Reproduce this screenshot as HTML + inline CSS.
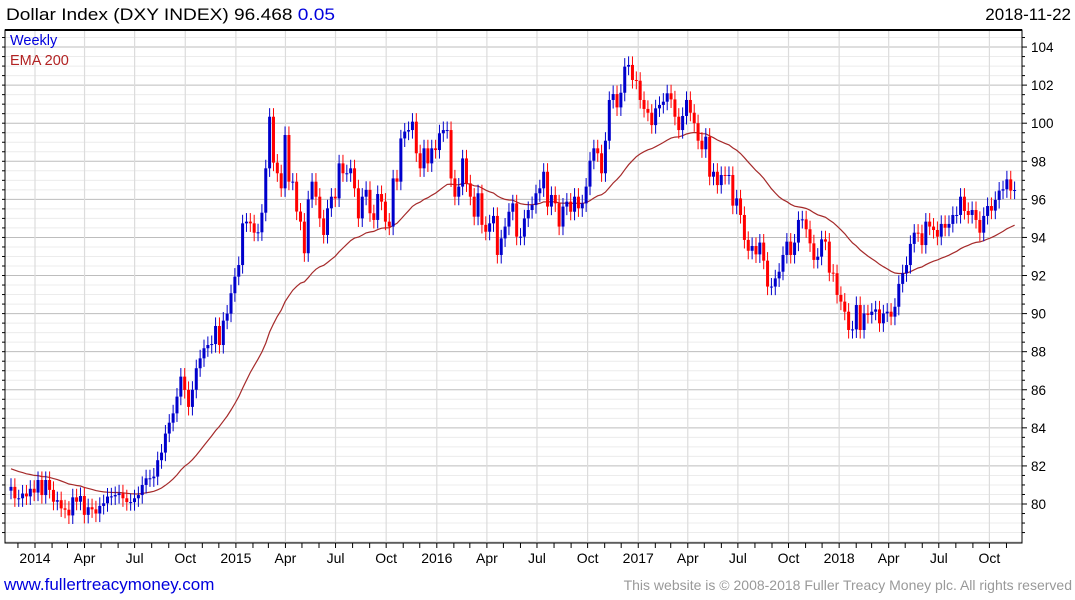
<!DOCTYPE html>
<html><head><meta charset="utf-8"><style>
body{margin:0;background:#fff;width:1075px;height:600px;overflow:hidden;font-family:"Liberation Sans",sans-serif}
svg{display:block}
</style></head><body>
<svg id="chart" width="1075" height="600" xmlns="http://www.w3.org/2000/svg">
<text x="6" y="20" font-size="17" fill="#000" textLength="329" lengthAdjust="spacingAndGlyphs">Dollar Index (DXY INDEX) 96.468 <tspan fill="#0000dd">0.05</tspan></text>
<text x="1071" y="20" font-size="17" fill="#000" text-anchor="end">2018-11-22</text>
<g id="grid"></g>
<g id="ema"></g>
<g id="candles"></g>
<g id="axes"></g>
<text x="10" y="45" font-size="14.5" fill="#0000dd">Weekly</text>
<text x="10" y="65" font-size="14.5" fill="#b22222">EMA 200</text>
<a><text x="4" y="590" font-size="17" fill="#0000dd">www.fullertreacymoney.com</text></a>
<text x="1072" y="590" font-size="14" fill="#999" text-anchor="end">This website is © 2008-2018 Fuller Treacy Money plc. All rights reserved</text>
</svg>
<script>
const closes=[80.9,80.3,80.3,80.55,80.4,80.8,80.6,81.26,80.47,81.26,
80.74,80.12,80.2,79.77,79.7,79.4,80.35,80.12,80.42,79.43,
79.83,79.72,79.5,79.9,80.04,80.39,80.4,80.47,80.56,80.3,
80.1,80.1,80.3,80.47,81.0,81.35,81.35,81.44,82.3,82.7,
83.7,84.27,84.76,85.64,86.69,85.99,85.1,86.0,87.13,87.65,
88.18,88.35,88.4,89.35,88.35,89.63,90.0,91.07,91.94,92.55,
94.74,94.83,94.74,94.25,94.27,95.3,97.63,100.34,97.93,97.37,
96.58,99.38,96.93,96.93,95.36,94.83,93.17,96.0,96.93,96.14,
95.0,94.13,95.53,96.14,96.05,
97.89,97.37,97.37,97.63,96.58,95.0,96.14,96.5,95.27,94.92,
96.28,95.88,94.83,94.57,97.1,96.93,99.2,99.56,99.64,100.08,
98.42,97.63,98.68,97.89,98.68,98.59,99.47,99.64,99.64,97.1,
96.14,96.67,98.15,96.84,96.14,95.09,96.32,94.66,94.3,94.74,
95.13,93.08,93.95,94.57,95.35,95.79,94.04,94.04,95.0,95.44,
95.7,96.32,96.58,97.45,95.62,96.23,95.79,94.57,95.62,95.88,
95.35,96.14,95.53,95.79,96.67,98.03,98.68,98.42,97.37,99.08,
101.22,101.53,100.83,101.6,102.97,103.06,102.27,102.23,101.22,100.75,
100.55,99.9,100.78,100.96,
101.13,101.57,101.25,100.34,99.64,100.38,101.22,100.55,100.0,99.08,
98.63,99.29,97.19,97.45,96.75,97.28,97.23,97.28,95.67,96.05,
95.18,93.87,93.3,93.55,93.11,93.73,92.78,91.42,91.42,91.85,
92.2,93.08,93.78,93.08,93.73,94.92,94.95,94.43,93.69,92.82,
92.99,93.9,93.78,92.15,92.12,90.98,90.63,90.1,89.14,89.17,
90.45,89.14,90.01,89.93,90.1,90.22,89.49,90.01,90.1,89.84,
90.36,91.56,92.12,92.55,93.66,94.25,94.22,93.6,94.83,94.57,
94.39,94.04,94.71,94.51,94.71,95.18,95.18,96.14,95.39,95.18,
95.44,94.92,94.25,95.13,95.65,95.41,95.97,96.46,96.53,97.05,
96.46,96.49];
const firstOpen=80.7;
const emaSeed=81.9;
const yTicks=[80,82,84,86,88,90,92,94,96,98,100,102,104];
const xLabels=["2014","Apr","Jul","Oct","2015","Apr","Jul","Oct","2016","Apr","Jul","Oct","2017","Apr","Jul","Oct","2018","Apr","Jul","Oct"];
const xLabelDates=["2014-01-01","2014-04-01","2014-07-01","2014-10-01","2015-01-01","2015-04-01","2015-07-01","2015-10-01","2016-01-01","2016-04-01","2016-07-01","2016-10-01","2017-01-01","2017-04-01","2017-07-01","2017-10-01","2018-01-01","2018-04-01","2018-07-01","2018-10-01"];

const NS="http://www.w3.org/2000/svg";
const L=5,R=1022,T=30,B=543;
function y(v){return 504-(v-80)*19.04;}
function x(i){return 11+i*3.86;}
function xd(s){const d=(Date.parse(s)-Date.parse("2014-01-01"))/86400000;return 35+d*200.9/365;}
function mk(tag,attrs,parent){const e=document.createElementNS(NS,tag);for(const k in attrs)e.setAttribute(k,attrs[k]);parent.appendChild(e);return e;}
const grid=document.getElementById('grid'),axes=document.getElementById('axes'),cg=document.getElementById('candles'),eg=document.getElementById('ema');
for(let v=78;v<=105;v+=0.5){const yy=y(v);if(yy<T||yy>B)continue;
 const major=(v%2===0);
 const ln=mk('line',{x1:L,x2:R,y1:yy,y2:yy,stroke:major?'#bdbdbd':'#ececec','stroke-width':1},grid);
 
 
}
xLabels.forEach((lab,k)=>{const xx=xd(xLabelDates[k]);
 const ln=mk('line',{x1:xx,x2:xx,y1:T,y2:B,stroke:'#dcdcdc','stroke-width':1.2},grid);
 
 
 const t=mk('text',{x:xx,y:563,'font-size':14,'text-anchor':'middle',fill:'#000'},axes);t.textContent=lab;
 
 
});
for(let yr=2013;yr<=2018;yr++)for(let m=1;m<=12;m++){const s=yr+"-"+String(m).padStart(2,'0')+"-01";const xx=xd(s);if(xx<L||xx>R)continue;
 const tk=mk('line',{x1:xx,x2:xx,y1:B,y2:B+5,stroke:'#000'},axes);
 
 
}
const fr=mk('rect',{x:L,y:T,width:R-L,height:B-T,fill:'none',stroke:'#000','stroke-width':1},axes);


mk('line',{x1:L,x2:R,y1:T,y2:T,stroke:'#000','stroke-width':2},axes);
for(let v=78.5;v<=105;v+=0.5){const yy=y(v);if(yy<T||yy>B)continue;mk('line',{x1:R,x2:R+(v%2===0?5:3),y1:yy,y2:yy,stroke:'#000'},axes);mk('line',{x1:L-3,x2:L,y1:yy,y2:yy,stroke:'#000'},axes);}
yTicks.forEach(v=>{const t=mk('text',{x:1031,y:y(v)+5,'font-size':13.5,fill:'#000'},axes);t.textContent=v;
 
 
});
let e=emaSeed;const a=2/41;let pts=[];
closes.forEach((c,i)=>{e=e+a*(c-e);pts.push(x(i).toFixed(1)+","+y(e).toFixed(1));});
const pl=mk('polyline',{points:pts.join(' '),fill:'none',stroke:'#a52a2a','stroke-width':1.2},eg);


closes.forEach((c,i)=>{const o=i===0?firstOpen:closes[i-1];const up=c>=o;const col=up?'#0000cc':'#ff0000';
 const hi=Math.max(o,c)+0.45,lo=Math.min(o,c)-0.45;const xx=x(i);
 const g=mk('g',{},cg);
 
 
 mk('line',{x1:xx,x2:xx,y1:y(hi),y2:y(lo),stroke:col,'stroke-width':1},g);
 const top=y(Math.max(o,c)),bot=y(Math.min(o,c));
 mk('rect',{x:xx-1.5,y:top,width:3,height:Math.max(1,bot-top),fill:col},g);
});
</script>
</body></html>
